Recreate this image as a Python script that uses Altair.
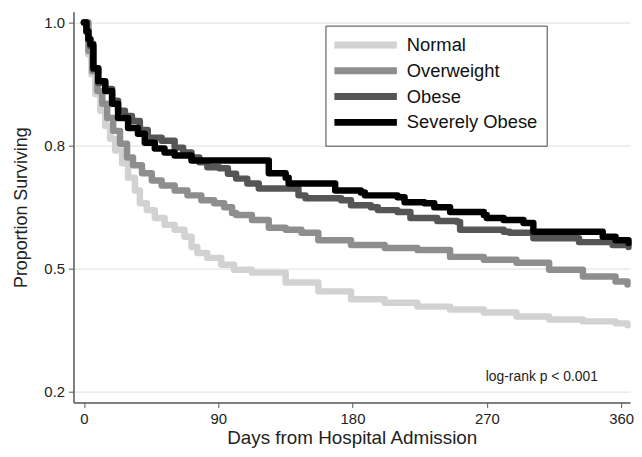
import altair as alt
import pandas as pd

groups = ["Normal", "Overweight", "Obese", "Severely Obese"]
colors = ["#d2d2d2", "#8e8e8e", "#555555", "#000000"]

normal_days = [0, 3.0, 5.0, 7.6, 11.0, 14.3, 17.6, 20.9, 25.6, 29.6, 34.2, 37.5, 42.2, 47.5, 54.1, 60.8,
               67.4, 72.1, 76.0, 82.7, 92.0, 100.6, 112.6,
               135.2, 157.1, 179.0, 201.6, 223.5, 245.4, 268.0, 289.9, 311.8, 334.4, 356.3, 364.3]
normal_surv = [1.0, 0.935, 0.895, 0.855, 0.821, 0.790, 0.764, 0.740, 0.714, 0.685, 0.659, 0.633, 0.619, 0.603, 0.589, 0.579,
               0.565, 0.544, 0.532, 0.522, 0.508, 0.498, 0.492,
               0.472, 0.454, 0.438, 0.431, 0.423, 0.417, 0.411, 0.403, 0.397, 0.393, 0.389, 0.385]

over_days = [0, 3.0, 5.6, 9.0, 12.3, 15.6, 19.6, 24.2, 28.9, 32.9, 38.9, 45.5, 52.1, 60.8, 69.4, 78.7, 87.3,
             94.0, 99.3, 102.0, 112.6,
             123.9, 135.2, 145.8, 157.1, 179.0, 201.6, 223.5, 245.4, 268.0, 289.9, 311.8, 334.4, 356.3, 364.3]
over_surv = [1.0, 0.942, 0.901, 0.861, 0.835, 0.806, 0.780, 0.754, 0.726, 0.710, 0.694, 0.679, 0.669, 0.659, 0.649, 0.639, 0.633,
             0.625, 0.613, 0.609, 0.599,
             0.583, 0.579, 0.573, 0.558, 0.548, 0.542, 0.538, 0.524, 0.518, 0.512, 0.498, 0.484, 0.474, 0.468]

obese_days = [0, 1.7, 3.0, 4.3, 6.3, 9.6, 14.3, 18.9, 22.9, 27.5, 32.2, 37.5, 42.8, 52.1, 60.8, 66.5, 72.1, 77.4, 82.7, 90.7,
              96.5, 102.0, 109.5, 117.2,
              143.8, 148.5, 172.4, 179.0, 192.3, 197.0, 210.2, 218.8, 236.8, 250.1, 252.1, 281.3, 285.3,
              301.2, 327.8, 331.8, 354.3, 365.0]
obese_surv = [1.0, 0.982, 0.966, 0.952, 0.905, 0.877, 0.865, 0.841, 0.821, 0.810, 0.800, 0.782, 0.766, 0.760, 0.746, 0.736,
              0.726, 0.716, 0.706, 0.704,
              0.693, 0.683, 0.673, 0.663,
              0.649, 0.643, 0.639, 0.629, 0.625, 0.619, 0.615, 0.603, 0.597, 0.595, 0.579, 0.575, 0.573,
              0.562, 0.562, 0.554, 0.548, 0.544]

severe_days = [0, 1.7, 3.0, 4.3, 6.3, 9.6, 14.3, 18.9, 22.9, 29.6, 36.2, 40.8, 47.5, 54.0, 60.8, 72.1, 115.2, 123.9, 135.2,
               137.2, 161.7, 168.4, 185.6, 188.3, 210.2, 214.9, 228.2, 234.8, 245.4, 268.0, 270.0, 281.3,
               294.6, 301.2, 343.1, 347.7, 356.3, 365.0]
severe_surv = [1.0, 0.982, 0.966, 0.956, 0.907, 0.881, 0.861, 0.835, 0.806, 0.786, 0.774, 0.756, 0.744, 0.736, 0.730, 0.720,
               0.720, 0.694, 0.685,
               0.673, 0.673, 0.659, 0.655, 0.649, 0.645, 0.635, 0.633, 0.625, 0.615, 0.609, 0.603, 0.599,
               0.593, 0.575, 0.575, 0.565, 0.558, 0.552]

x_ticks = [0, 90, 180, 270, 360]
y_ticks = [0.25, 0.5, 0.75, 1.0]
y_tick_labels = ["0.2", "0.5", "0.8", "1.0"]

note_text = ["log-rank p < 0.001"]
note_x = [344.5]
note_y = [0.28]

rows = []
for g, ds, ss in [(groups[0], normal_days, normal_surv), (groups[1], over_days, over_surv),
                  (groups[2], obese_days, obese_surv), (groups[3], severe_days, severe_surv)]:
    for d, s in zip(ds, ss):
        rows.append({"group": g, "order": groups.index(g), "days": d, "surv": s})
df = pd.DataFrame(rows)

label_expr = " : ".join(
    f"datum.value == {v} ? '{l}'" for v, l in zip(y_ticks, y_tick_labels)
) + " : datum.label"

FONT = "Liberation Sans"

xscale = alt.Scale(domain=[-7, 366], nice=False, zero=False)
yscale = alt.Scale(domain=[0.228, 1.022], nice=False, zero=False)

axis_common = dict(labelFontSize=15, tickSize=5, labelPadding=4, labelFlush=False,
                   domainColor="#555555", tickColor="#555555", labelColor="#222222",
                   titleColor="#222222", domainWidth=1.5, titleFontWeight="normal")

lines = alt.Chart(df).mark_line(interpolate="step-after", strokeWidth=6.5, strokeCap="round", strokeJoin="round").encode(
    x=alt.X("days:Q", scale=xscale,
            axis=alt.Axis(values=x_ticks, title="Days from Hospital Admission", grid=False,
                          titlePadding=2, titleFontSize=19, **axis_common)),
    y=alt.Y("surv:Q", scale=yscale,
            axis=alt.Axis(values=y_ticks, labelExpr=label_expr, title="Proportion Surviving",
                          grid=True, gridColor="#e6e6e6", gridWidth=1.2,
                          titlePadding=14, titleFontSize=18, **axis_common)),
    color=alt.Color("group:N", scale=alt.Scale(domain=groups, range=colors),
                    legend=alt.Legend(title=None, orient="none", legendX=254, legendY=14,
                                      symbolType="M-1.5,0H7.5", symbolSize=196, symbolStrokeWidth=7,
                                      labelFontSize=18.5, labelFont=FONT, labelColor="#111111",
                                      labelOffset=52, rowPadding=-3, padding=9,
                                      strokeColor="#444444", fillColor="#ffffff",
                                      cornerRadius=0)),
    order=alt.Order("order:Q"),
    detail="group:N",
)

notes = pd.DataFrame({"text": note_text, "x": note_x, "y": note_y})
note = alt.Chart(notes).mark_text(align="right", baseline="middle", fontSize=14, font=FONT, color="#222222").encode(
    x=alt.X("x:Q", scale=xscale),
    y=alt.Y("y:Q", scale=yscale),
    text="text:N",
)

chart = alt.layer(lines, note).properties(
    width=561, height=394,
    padding={"left": 4, "top": 2, "right": 0, "bottom": 0},
    background="white",
).configure_view(stroke=None).configure_axis(
    labelFont=FONT, titleFont=FONT
)

chart.save("out.html", embed_options={"renderer": "svg", "actions": False})
